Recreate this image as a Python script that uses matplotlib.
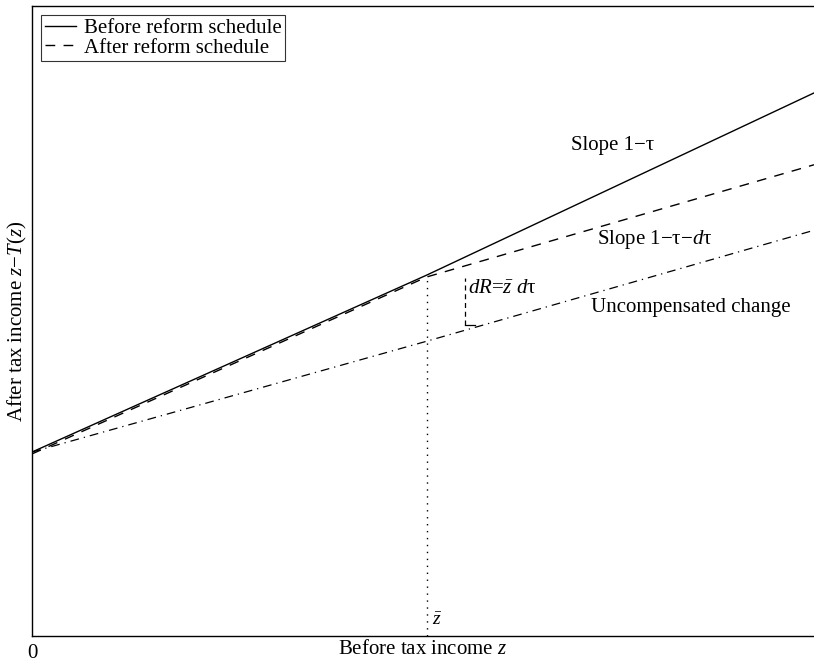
import matplotlib
matplotlib.use("Agg")
import matplotlib.pyplot as plt

plt.rcParams['font.family'] = ['Liberation Serif', 'DejaVu Serif']
plt.rcParams['mathtext.fontset'] = 'custom'
plt.rcParams['mathtext.rm'] = 'Liberation Serif'
plt.rcParams['mathtext.it'] = 'Liberation Serif:italic'

# --- data ---
z_bar = 5.05
x_before = [0, z_bar, 10]
y_before = [2.92, 5.73, 8.62]
x_after = [0, z_bar, 10]
y_after = [2.89, 5.70, 7.48]
x_uncomp = [0, z_bar, 10]
y_uncomp = [2.92, 4.68, 6.44]
x_bracket = 5.54
y_bracket = [4.93, 5.68]

fig = plt.figure(figsize=(8.14, 6.62), dpi=100)
ax = fig.add_axes([32/814, 26/662, 782/814, 630/662])

ax.plot(x_before, y_before, color='black', lw=1.0, label='Before reform schedule')
ax.plot(x_after, y_after, color='black', lw=1.0, ls=(0, (7, 6)), label='After reform schedule')
ax.plot(x_uncomp, y_uncomp, color='black', lw=0.9, ls=(0, (7, 4, 1, 4)))

# dotted guide at z bar
ax.plot([z_bar, z_bar], [0, y_before[1]], color='black', lw=1.0, ls=(0, (1, 4)))

# dR bracket
ax.plot([x_bracket, x_bracket], y_bracket, color='black', lw=0.9, ls=(0, (4, 3)))
ax.plot([x_bracket, x_bracket + 0.12], [y_bracket[0], y_bracket[0]], color='black', lw=0.9)

ax.text(7.43, 7.79, 'Slope 1−τ', fontsize=15, ha='center', va='center')
ax.text(7.97, 6.29, 'Slope 1−τ−$d$τ', fontsize=15, ha='center', va='center')
ax.text(7.15, 5.22, 'Uncompensated change', fontsize=15, ha='left', va='center')
ax.text(5.58, 5.52, r'$dR$=$\bar{z}$ $d$τ', fontsize=15, ha='left', va='center')
ax.text(5.12, 0.25, r'$\bar{z}$', fontsize=14, ha='left', va='center')

ax.set_xlim(0, 10)
ax.set_ylim(0, 10)
ax.set_xticks([])
ax.set_yticks([])
ax.spines['right'].set_visible(False)
for s in ['left', 'top', 'bottom']:
    ax.spines[s].set_linewidth(1.0)

ax.text(0, -0.27, '0', fontsize=15, ha='center', va='center')
ax.set_xlabel('Before tax income $z$', fontsize=15, labelpad=3)
ax.set_ylabel('After tax income $z$−$T$($z$)', fontsize=15, labelpad=2)

leg = ax.legend(loc='upper left', fontsize=15, handlelength=1.5, handletextpad=0.4,
                borderpad=0.15, labelspacing=0.0, borderaxespad=0.45, fancybox=False)
leg.get_frame().set_edgecolor('black')
leg.get_frame().set_linewidth(0.8)

fig.savefig('out.png', dpi=100)
